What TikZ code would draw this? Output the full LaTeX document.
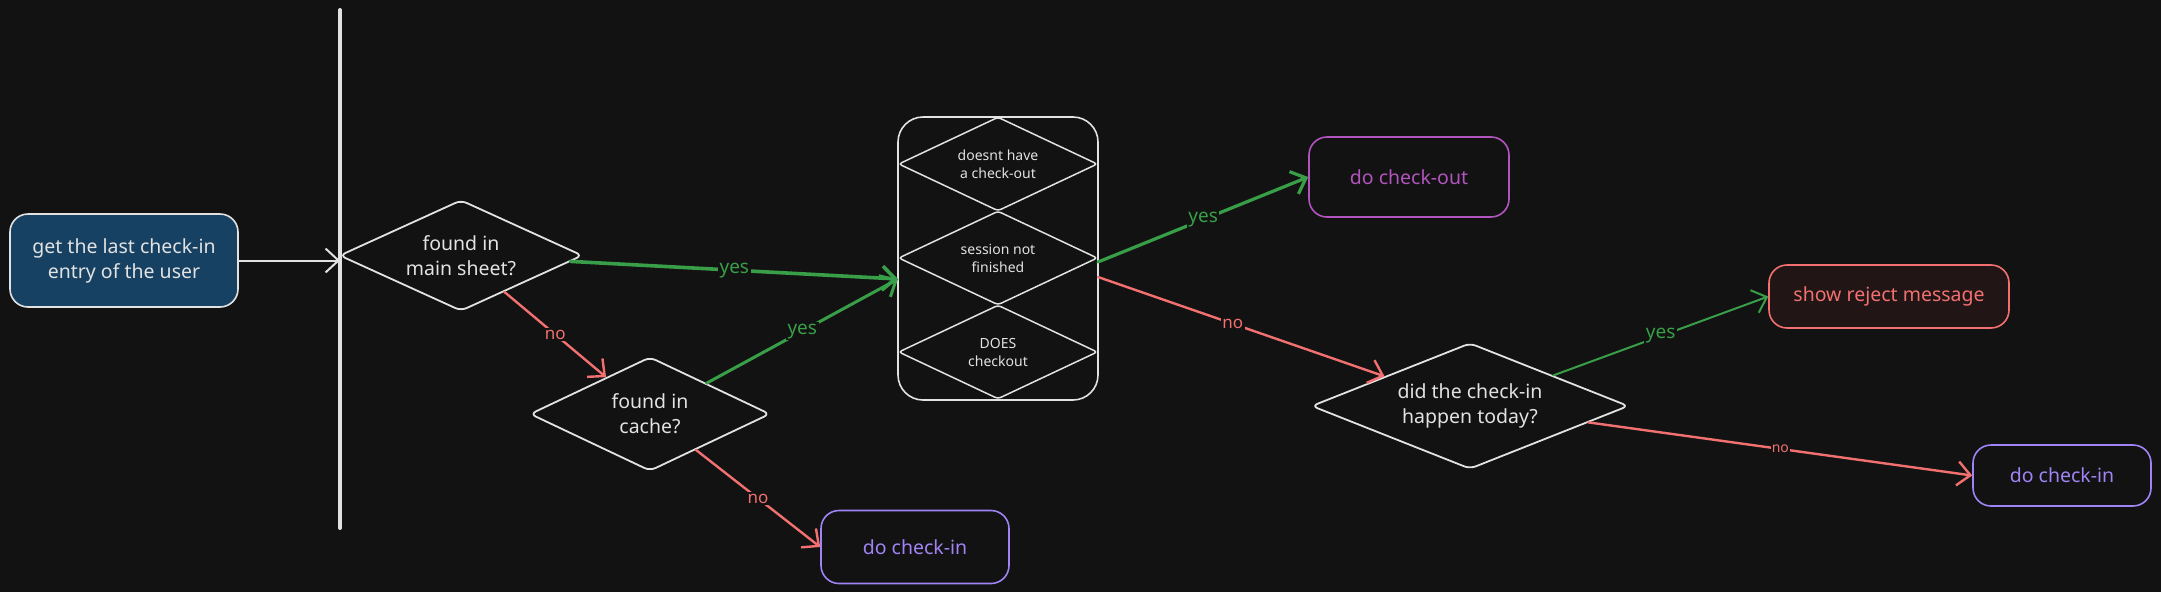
\documentclass[tikz,border=0pt]{standalone}
\usepackage{fontspec}
\setmainfont{Noto Sans}
\usetikzlibrary{shapes.geometric}
\usetikzlibrary{arrows.meta, positioning}
\usepackage{xcolor}
\definecolor{bgDark}{RGB}{18, 18, 18}
\definecolor{inkLight}{RGB}{226, 226, 226}
\definecolor{startBlue}{RGB}{22, 65, 99}
\definecolor{yesGreen}{RGB}{56, 158, 72}
\definecolor{noRed}{RGB}{242, 112, 112}
\definecolor{outPurple}{RGB}{178, 84, 190}
\definecolor{inViolet}{RGB}{160, 132, 245}
\definecolor{rejectFill}{RGB}{33, 21, 21}
\colorlet{box edge}{inkLight}
\colorlet{box text}{inkLight}
\tikzset{
    box/.style={draw=box edge, line width=1.6pt, rounded corners=18pt, align=center, text=box text, inner sep=0pt, font=\fontsize{19.5}{25}\selectfont},
    decision/.style={shape=diamond, draw=box edge, line width=1.8pt, rounded corners=6pt, align=center, text=box text, inner sep=0pt, aspect=2.2, font=\fontsize{19.5}{25}\selectfont},
    subdecision/.style={decision, line width=1.5pt, rounded corners=3pt, aspect=2.1, font=\fontsize{14}{18}\selectfont},
    link/.style={-{Straight Barb[length=13pt, width=24pt]}, line width=2.4pt, line cap=round},
    yesLink/.style={link, draw=yesGreen},
    noLink/.style={link, draw=noRed},
    tag/.style={fill=bgDark, inner sep=1.5pt, font=\fontsize{17}{20}\selectfont}
}

\begin{document}
\begin{tikzpicture}[x=1pt, y=-1pt]
    % Background of the whole canvas
    \useasboundingbox (0,0) rectangle (2161,592);
    \fill[bgDark] (0,0) rectangle (2161,592);

    % Start box and the vertical bar
    \node[box, fill=startBlue, minimum width=228pt, minimum height=93pt] (start) at (124,260.5) {get the last check-in\\entry of the user};
    \coordinate (barTop) at (340,10);
    \coordinate (barBot) at (340,528);
    \draw[inkLight, line width=4pt, line cap=round] (barTop) -- (barBot);

    % Decisions on the left
    \node[decision, minimum width=243pt, minimum height=111pt] (mainSheet) at (461,255.5) {found in\\main sheet?};
    \node[decision, aspect=2.1, minimum width=240pt, minimum height=114pt] (cache) at (650,414) {found in\\cache?};

    % Conditions box with the three stacked diamonds
    \node[box, rounded corners=25pt, minimum width=200pt, minimum height=283pt] (cond) at (998,258.5) {};
    \node[subdecision, minimum width=199pt, minimum height=94pt] (noCheckout) at (998,164) {doesnt have\\a check-out};
    \node[subdecision, minimum width=199pt, minimum height=94pt] (notFinished) at (998,258) {session not\\finished};
    \node[subdecision, minimum width=199pt, minimum height=94pt] (doesCheckout) at (998,352) {DOES\\checkout};
    \coordinate (condIn) at (898,279);
    \coordinate (condYes) at (1098,262);
    \coordinate (condNo) at (1098,277);

    % Outcomes
    \node[box, draw=outPurple, text=outPurple, minimum width=200pt, minimum height=80pt] (checkOut) at (1409,177) {do check-out};
    \node[box, draw=inViolet, text=inViolet, minimum width=188pt, minimum height=73pt] (checkInA) at (915,547) {do check-in};
    \node[decision, aspect=2.5, minimum width=317pt, minimum height=126pt] (today) at (1470,406) {did the check-in\\happen today?};
    \node[box, draw=noRed, fill=rejectFill, text=noRed, minimum width=240pt, minimum height=63pt] (reject) at (1889,296.5) {show reject message};
    \node[box, draw=inViolet, text=inViolet, minimum width=178pt, minimum height=61pt] (checkInB) at (2062,475.5) {do check-in};

    % Connectors
    \draw[link, draw=inkLight, line width=2pt] (start.east) -- (start.east -| barTop);
    \draw[yesLink, line width=3.6pt] (mainSheet) -- node[tag, text=yesGreen, font=\fontsize{19}{20}\selectfont] {yes} (condIn);
    \draw[noLink] (mainSheet) -- node[tag, text=noRed] {no} (cache);
    \draw[yesLink, line width=3pt] (cache) -- node[tag, text=yesGreen, font=\fontsize{19}{20}\selectfont] {yes} (condIn);
    \draw[noLink] (cache) -- node[tag, text=noRed] {no} (checkInA.west);
    \draw[yesLink, line width=3.2pt] (condYes) -- node[tag, text=yesGreen, font=\fontsize{19}{20}\selectfont] {yes} (checkOut.west);
    \draw[noLink] (condNo) -- node[tag, text=noRed, pos=0.47] {no} (today);
    \draw[yesLink, line width=2pt] (today) -- node[tag, text=yesGreen, font=\fontsize{19}{20}\selectfont] {yes} (reject.west);
    \draw[noLink] (today) -- node[tag, text=noRed, font=\fontsize{14}{16}\selectfont, inner sep=1pt] {no} (checkInB.west);
\end{tikzpicture}
\end{document}
